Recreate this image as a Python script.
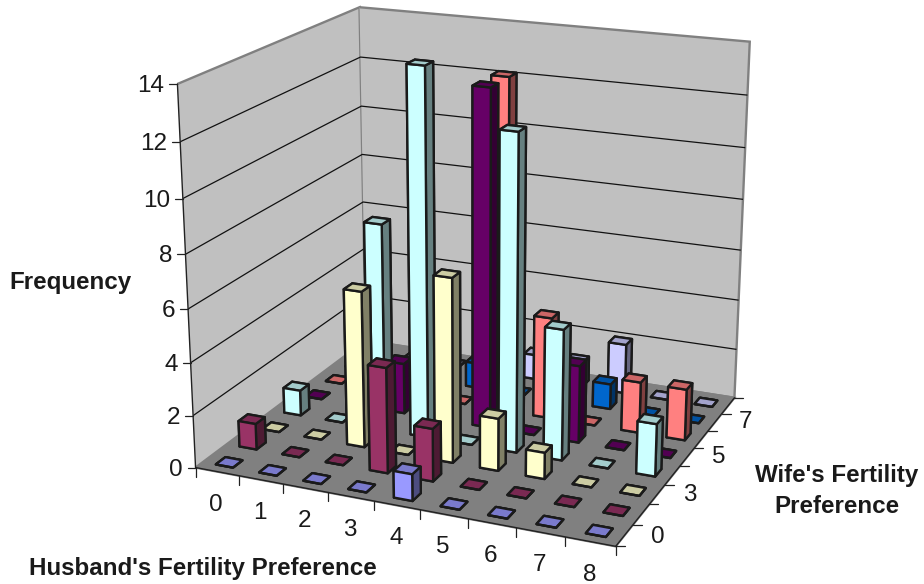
import numpy as np, seaborn as sns, matplotlib
matplotlib.use('Agg')
import matplotlib.pyplot as plt
from matplotlib.lines import Line2D
from matplotlib.transforms import IdentityTransform
from mpl_toolkits.mplot3d import proj3d

husband = list(range(9))
husband_labels = ['0', '1', '2', '3', '4', '5', '6', '7', '8']
wife_ticks = [0.5, 2.5, 4.5, 6.5]
wife_labels = ['0', '3', '5', '7']
z_ticks = [0, 2, 4, 6, 8, 10, 12, 14]
w0 = [0, 0, 0, 0, 1, 0, 0, 0, 0]
w1 = [1, 0, 0, 4, 2, 0, 0, 0, 0]
w2 = [0, 0, 6, 0, 7, 2, 1, 0, 0]
w3 = [1, 0, 8, 14, 0, 12, 5, 0, 2]
w4 = [0, 0, 2, 0, 13, 0, 3, 0, 0]
w5 = [0, 0, 0, 0, 13, 4, 0, 2, 2]
w6 = [0, 0, 0, 1, 0, 0, 1, 0, 0]
w7 = [0, 0, 0, 0, 1, 1, 2, 0, 0]
rows = [w0, w1, w2, w3, w4, w5, w6, w7]
colors = ['#9999FF', '#993366', '#FFFFCC', '#CCFFFF', '#660066', '#FF8080', '#0066CC', '#CCCCFF']

sns.set_theme(style='white')
plt.rcParams['font.family'] = ['Liberation Sans', 'DejaVu Sans']
fig = plt.figure(figsize=(9.24, 5.84), dpi=100)
ax = fig.add_subplot(projection='3d', computed_zorder=False)
pal = sns.color_palette(colors)
G = 0.4
for j, r in enumerate(rows):
    c = np.array(pal[j])
    fc = [c*.8, c*.8, c, c, c*.5, c*.5]
    for i, v in enumerate(r):
        ax.bar3d(i+.5-G/2, j+.5-G/2, 0, G, G, v, color=fc, shade=False,
                 edgecolor='k', linewidth=1.7, zorder=(7-j)*10+i)
ax.set_xlim(0, 9, view_margin=0)
ax.set_ylim(0, 8, view_margin=0)
ax.set_zlim(0, 14, view_margin=0)

S = 800
cx, cy = 465.0829, 262.9338
ax.view_init(elev=18.4092, azim=-66.9166, roll=0)
ax.set_proj_type('persp', focal_length=np.exp(-0.7477))
ax.set_box_aspect((1, np.exp(-0.1377), np.exp(-0.1217)), zoom=np.exp(-0.1625))
ax.set_position([(cx-S/2)/924, (584-cy-S/2)/584, S/924, S/584])
ax.patch.set_alpha(0)
ax.apply_aspect()

ax.xaxis.set_pane_color('#C0C0C0')
ax.yaxis.set_pane_color('#C0C0C0')
ax.zaxis.set_pane_color('#808080')
for a in (ax.xaxis, ax.yaxis, ax.zaxis):
    a.pane.set_edgecolor('#808080')
    a.pane.set_linewidth(1.7)
    a.line.set_color('#222222')
    a.line.set_linewidth(1.0)
ax.grid(True)
for a in (ax.xaxis, ax.yaxis):
    a._axinfo['grid'].update(linewidth=0, color=(0, 0, 0, 0))
ax.zaxis._axinfo['grid'].update(linewidth=0.9, color='#111111')

ax.set_xticks([])
ax.set_yticks([])
ax.set_zticks(z_ticks[1:-1])
ax.set_zticklabels([])
ax.zaxis.set_ticks_position('lower')
ax.zaxis._axinfo['tick'].update(inward_factor=0, outward_factor=0)

M = ax.get_proj()
def project(x, y, z):
    px, py, _ = proj3d.proj_transform(x, y, z, M)
    return float(px), float(py)
def label(x, y, z, text, dx, dy, ha='center'):
    ax.annotate(text, xy=project(x, y, z), xycoords='data', xytext=(dx, dy),
                textcoords='offset pixels', ha=ha, va='center', fontsize=17.5,
                color='k', annotation_clip=False)
def tick(x, y, z, dx, dy):
    d = ax.transData.transform(project(x, y, z))
    fig.add_artist(Line2D([d[0], d[0]+dx], [d[1], d[1]+dy], transform=IdentityTransform(),
                          color='#222222', lw=0.9))

for i, lab in zip(husband, husband_labels):
    label(i+.5, 0, 0, lab, -1, -33)
for y, lab in zip(wife_ticks, wife_labels):
    label(9.65, y, 0, lab, 1, 5)
for z in z_ticks:
    label(0, 0, z, str(z), -13, -2, ha='right')
    tick(0, 0, z, -8, 0)
for x in range(10):
    tick(x, 0, 0, 0, -9)
for y in range(9):
    tick(9, y, 0, 9, 0)

tkw = dict(ha='center', va='center', fontsize=17.4, fontweight='bold', color='k')
fig.text(70/924, 1-283/584, 'Frequency', **tkw)
fig.text(203/924, 1-569/584, "Husband's Fertility Preference", **tkw)
fig.text(837/924, 1-491/584, "Wife's Fertility\nPreference", linespacing=1.47, **tkw)
fig.savefig('out.png', dpi=100)
